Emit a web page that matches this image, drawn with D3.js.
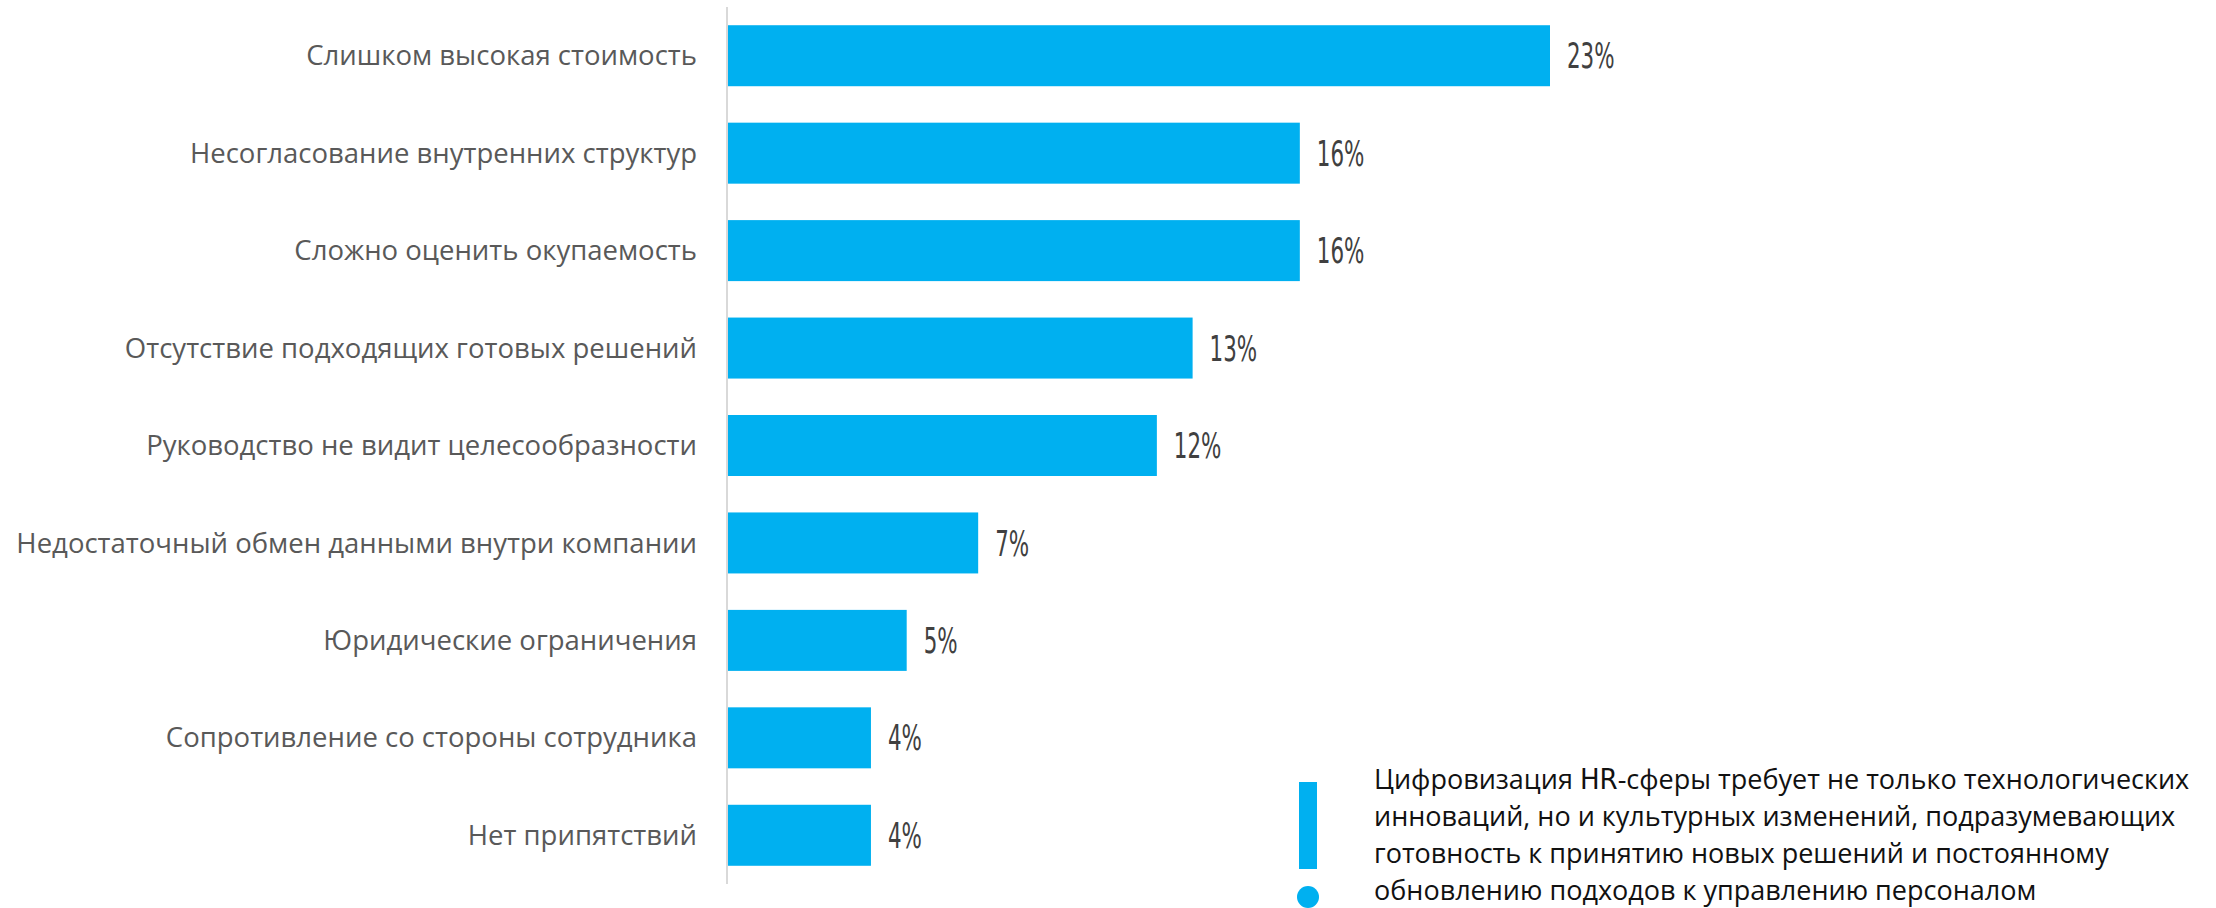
<!DOCTYPE html>
<html>
<head>
<meta charset="utf-8">
<script src="https://cdn.jsdelivr.net/npm/d3@7"></script>
<style>
  body { margin: 0; background: #fff; }
  svg { display: block; }
</style>
</head>
<body>
<svg id="chart" width="2216" height="908"></svg>
<script>
// data
const categories = [
  'Слишком высокая стоимость',
  'Несогласование внутренних структур',
  'Сложно оценить окупаемость',
  'Отсутствие подходящих готовых решений',
  'Руководство не видит целесообразности',
  'Недостаточный обмен данными внутри компании',
  'Юридические ограничения',
  'Сопротивление со стороны сотрудника',
  'Нет припятствий'
];
const values = [23, 16, 16, 13, 12, 7, 5, 4, 4];
const noteLines = [
  ['Цифровизация ', 'HR', '-сферы требует не только технологических'],
  ['инноваций, но и культурных изменений, подразумевающих'],
  ['готовность к принятию новых решений и постоянному'],
  ['обновлению подходов к управлению персоналом']
];

const svg = d3.select('#chart');
const labelFont = '"Open Sans", "Noto Sans", sans-serif';
const numFont = '"Liberation Sans Narrow", "DejaVu Sans Condensed", sans-serif';

const x = d3.scaleLinear().domain([0, 23]).range([728, 1550]);
const y = d3.scaleBand().domain(categories).range([7, 884])
    .paddingInner(0.374).paddingOuter(0.187);

// bars
svg.selectAll('rect.bar')
  .data(categories)
  .join('rect')
    .attr('class', 'bar')
    .attr('x', x(0))
    .attr('y', d => y(d))
    .attr('width', (d, i) => x(values[i]) - x(0))
    .attr('height', y.bandwidth())
    .attr('fill', '#00B0F0');

// axis line
svg.append('line')
  .attr('x1', 727).attr('x2', 727)
  .attr('y1', 7).attr('y2', 884)
  .attr('stroke', '#d9d9d9').attr('stroke-width', 2);

// category labels
svg.selectAll('text.cat')
  .data(categories)
  .join('text')
    .attr('class', 'cat')
    .attr('x', 697)
    .attr('y', d => y(d) + y.bandwidth() / 2)
    .attr('dy', '0.35em')
    .attr('text-anchor', 'end')
    .attr('font-family', labelFont)
    .attr('font-size', 27.5)
    .attr('fill', '#595959')
    .text(d => d);

// value labels (condensed)
svg.selectAll('g.val')
  .data(categories)
  .join('g')
    .attr('class', 'val')
    .attr('transform', (d, i) => `translate(${x(values[i]) + 17},${y(d) + y.bandwidth() / 2}) scale(0.68,1)`)
  .append('text')
    .attr('dy', '0.36em')
    .attr('font-family', numFont)
    .attr('font-size', 35)
    .attr('fill', '#404040')
    .text((d, i) => values[i] + '%');

// note marker
svg.append('rect')
  .attr('x', 1299).attr('y', 782)
  .attr('width', 18).attr('height', 87)
  .attr('fill', '#00B0F0');
svg.append('circle')
  .attr('cx', 1308).attr('cy', 897).attr('r', 11)
  .attr('fill', '#00B0F0');

// note text
const note = svg.append('g');
noteLines.forEach((parts, i) => {
  const t = note.append('text')
    .attr('x', 1374)
    .attr('y', 780 + i * 37)
    .attr('dy', '0.35em')
    .attr('font-family', labelFont)
    .attr('font-size', 27)
    .attr('fill', '#111');
  parts.forEach(p => {
    const s = t.append('tspan').text(p);
    if (p === 'HR') s.attr('font-family', numFont).attr('font-size', 29);
  });
});
</script>
</body>
</html>
